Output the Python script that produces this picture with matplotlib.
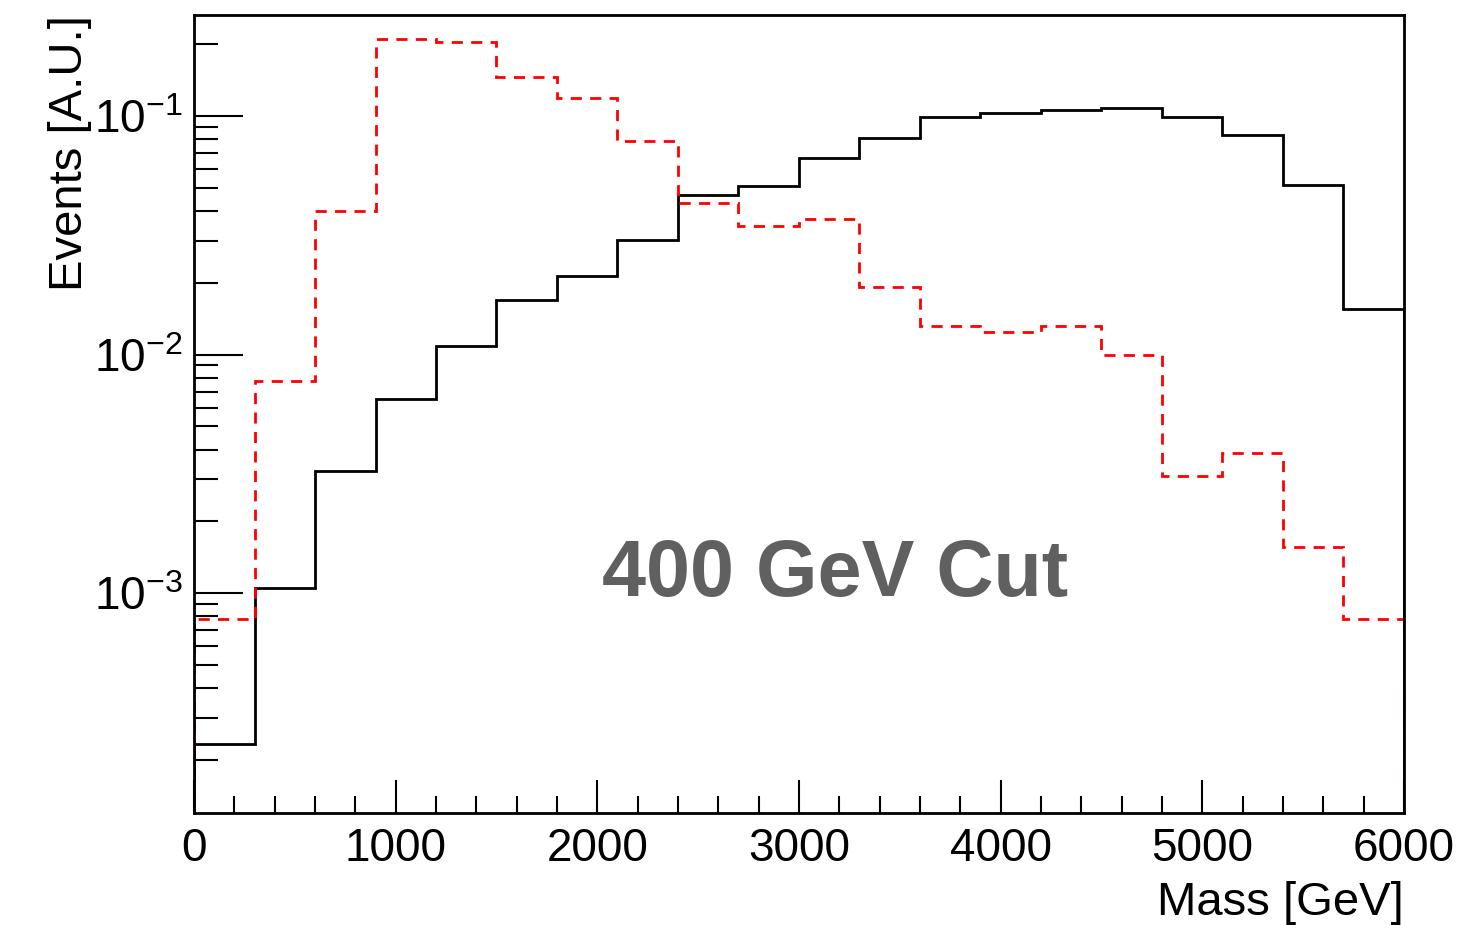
import numpy as np
import matplotlib
matplotlib.use("Agg")
import matplotlib.pyplot as plt
from matplotlib.ticker import LogLocator, MultipleLocator, NullFormatter

plt.rcParams["font.family"] = ["Liberation Sans", "DejaVu Sans"]
plt.rcParams["mathtext.fontset"] = "custom"
plt.rcParams["mathtext.rm"] = "Liberation Sans"
plt.rcParams["mathtext.it"] = "Liberation Sans"

# 20 bins of 300 GeV
bin_edges = np.linspace(0, 6000, 21)

# signal (black solid)
signal = [2.33e-4, 1.05e-3, 3.25e-3, 6.54e-3, 1.09e-2, 1.70e-2, 2.14e-2, 3.03e-2,
          4.67e-2, 5.09e-2, 6.67e-2, 8.09e-2, 0.099, 0.103, 0.106, 0.108,
          0.099, 0.0832, 0.0514, 0.0155]

# background (red dashed)
background = [7.78e-4, 7.78e-3, 0.040, 0.210, 0.204, 0.146, 0.119, 0.0786,
              0.0432, 0.0346, 0.037, 0.0192, 0.01316, 0.0124, 0.0132, 0.0100,
              0.0031, 0.00387, 0.00156, 7.78e-4]

fig = plt.figure(figsize=(14.7, 9.25), dpi=100)
ax = fig.add_axes([0.132, 0.121, 0.823, 0.863])

ax.stairs(signal, bin_edges, color="black", linewidth=2)
ax.stairs(background, bin_edges, color="red", linewidth=2, linestyle=(0, (4, 3)))

ax.set_yscale("log")
ax.set_xlim(0, 6000)
ax.set_ylim(1.2e-4, 0.265)

# ROOT-like ticks: inside, only left and bottom
ax.xaxis.set_major_locator(MultipleLocator(1000))
ax.xaxis.set_minor_locator(MultipleLocator(200))
ax.yaxis.set_major_locator(LogLocator(base=10))
ax.yaxis.set_minor_locator(LogLocator(base=10, subs=np.arange(2, 10)))
ax.yaxis.set_minor_formatter(NullFormatter())
ax.tick_params(axis="both", which="both", direction="in", width=1.5, labelsize=33)
ax.tick_params(axis="y", which="major", length=35, pad=8)
ax.tick_params(axis="y", which="minor", length=17)
ax.tick_params(axis="x", which="major", length=24, pad=10)
ax.tick_params(axis="x", which="minor", length=12)

for s in ax.spines.values():
    s.set_linewidth(2)

ax.set_xlabel("Mass [GeV]", fontsize=34, ha="right", x=1.0)
ax.set_ylabel("Events [A.U.]", fontsize=34, ha="right", y=1.0)
ax.xaxis.set_label_coords(1.0, -0.085)
ax.yaxis.set_label_coords(-0.084, 1.0)

ax.text(0.53, 0.297, "400 GeV Cut", transform=ax.transAxes, fontsize=57,
        fontweight="bold", color="#606060", ha="center", va="center")

fig.savefig("out.png", dpi=100)
